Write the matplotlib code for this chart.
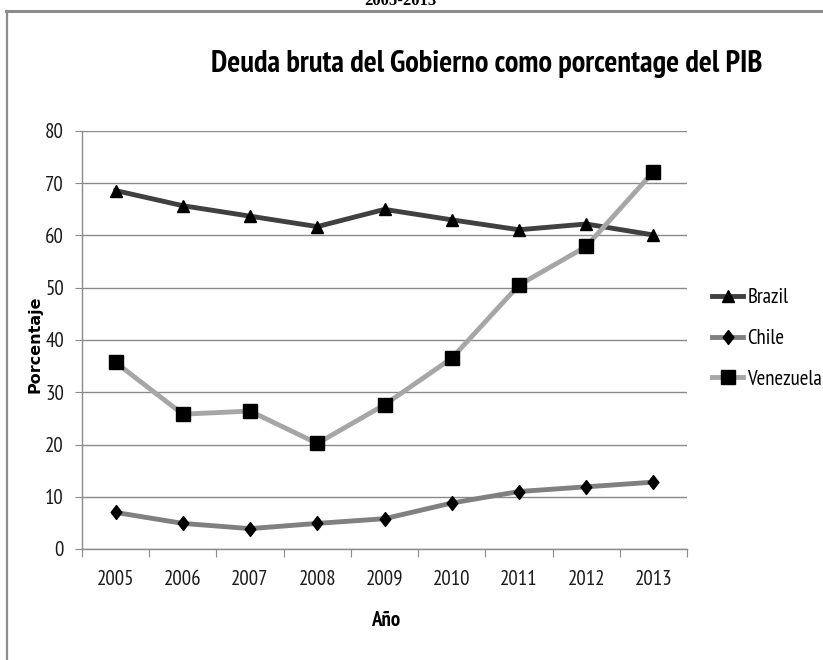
import matplotlib
matplotlib.use("Agg")
import matplotlib.pyplot as plt
from matplotlib.lines import Line2D
from matplotlib.path import Path
from matplotlib.ticker import FixedLocator, NullFormatter

years = ["2005", "2006", "2007", "2008", "2009", "2010", "2011", "2012", "2013"]
brazil = [68.6, 65.7, 63.7, 61.7, 65.0, 63.0, 61.1, 62.2, 60.1]
chile = [7.0, 4.9, 3.9, 4.9, 5.8, 8.8, 11.0, 11.9, 12.8]
venezuela = [35.7, 25.8, 26.4, 20.2, 27.6, 36.5, 50.5, 57.9, 72.2]
yticks = [0, 10, 20, 30, 40, 50, 60, 70, 80]

W, H = 823, 660
narrow = ["PT Sans Narrow", "DejaVu Sans"]

fig = plt.figure(figsize=(W / 100, H / 100), dpi=100)
fig.patch.set_facecolor("white")

# outer frame lines
fig.add_artist(Line2D([6 / W, 1.0], [1 - 11 / H, 1 - 11 / H], color="#8c8c8c", lw=2.2,
                      transform=fig.transFigure))
fig.add_artist(Line2D([7 / W, 7 / W], [0, 1 - 11 / H], color="#8c8c8c", lw=1.6,
                      transform=fig.transFigure))
fig.text(400 / W, 1 - 1 / H, "2005-2013", ha="center", va="center", fontsize=12, fontweight="bold",
         family="Liberation Serif")

ax = fig.add_axes([82 / W, 1 - 549 / H, (687 - 82) / W, (549 - 131) / H])
x = list(range(len(years)))

diamond = Path([(0, 1), (0.77, 0), (0, -1), (-0.77, 0), (0, 1)],
               [Path.MOVETO, Path.LINETO, Path.LINETO, Path.LINETO, Path.CLOSEPOLY])

ax.plot(x, brazil, color="#404040", lw=3.5, marker="^", markersize=9, markerfacecolor="black",
        markeredgecolor="black", label="Brazil", zorder=3)
ax.plot(x, chile, color="#808080", lw=3.5, marker=diamond, markersize=10, markerfacecolor="black",
        markeredgecolor="black", label="Chile", zorder=3)
ax.plot(x, venezuela, color="#a6a6a6", lw=3.5, marker="s", markersize=10, markerfacecolor="black",
        markeredgecolor="black", label="Venezuela", zorder=3)

ax.set_xlim(-0.5, len(years) - 0.5)
ax.set_ylim(0, 80)
ax.set_yticks(yticks)
ax.yaxis.grid(True, color="#8a8a8a", lw=1)
ax.set_axisbelow(True)

ax.xaxis.set_major_locator(FixedLocator([i - 0.5 for i in range(len(years) + 1)]))
ax.xaxis.set_major_formatter(NullFormatter())
ax.xaxis.set_minor_locator(FixedLocator(x))
ax.set_xticklabels(years, minor=True)
ax.tick_params(axis="x", which="major", length=6, color="#8a8a8a", direction="out")
ax.tick_params(axis="x", which="minor", length=0, pad=15, labelsize=15)
ax.tick_params(axis="y", length=5, color="#8a8a8a", labelsize=15, pad=8)
for lab in ax.get_xticklabels(minor=True) + ax.get_yticklabels():
    lab.set_family(narrow)
    lab.set_color("#1a1a1a")

for s in ["top", "right"]:
    ax.spines[s].set_visible(False)
for s in ["left", "bottom"]:
    ax.spines[s].set_color("#8a8a8a")
    ax.spines[s].set_linewidth(1)

fig.text(386 / W, 1 - 621 / H, "Año", ha="center", va="center", fontsize=15, fontweight="bold",
         family=narrow)
fig.text(35 / W, 1 - 344 / H, "Porcentaje", ha="center", va="center", rotation=90,
         fontsize=11.5, fontweight="bold", family="DejaVu Sans")

fig.text(487 / W, 1 - 72 / H, "Deuda bruta del Gobierno como porcentage del PIB", ha="center",
         va="baseline", fontsize=22, fontweight="bold", family=narrow)

leg = fig.legend(handles=ax.get_lines(), loc="upper left", bbox_to_anchor=(712 / W, 1 - 288 / H),
                 frameon=False, prop={"family": narrow, "size": 15}, handlelength=1.5,
                 handletextpad=0.2, labelspacing=1.05, borderpad=0, borderaxespad=0)

fig.savefig("out.png", dpi=100, facecolor="white")
